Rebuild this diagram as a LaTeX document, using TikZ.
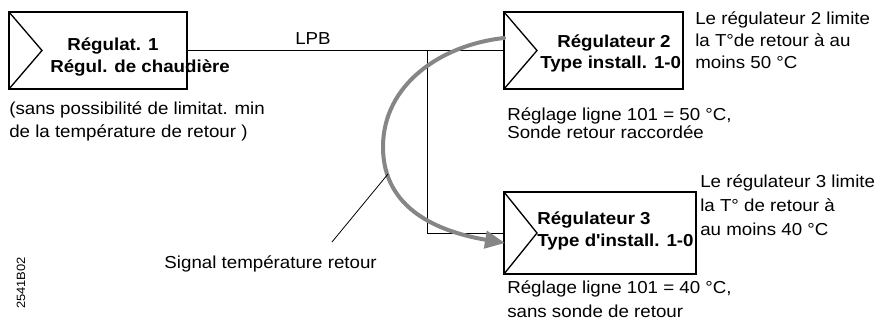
\documentclass[tikz,border=0pt]{standalone}
\usepackage{fontspec}
\setmainfont[FakeStretch=1.08]{Liberation Sans}
\usepackage{tikz}
\usetikzlibrary{arrows.meta}
\tikzset{
  regbox/.style args = {#1x#2}{draw,line width=1pt,inner sep=0pt,
    minimum width=#1*0.75pt,minimum height=#2*0.75pt,
    path picture={\draw[line width=1pt] (path picture bounding box.north west)
      -- ([xshift=24.75pt]path picture bounding box.west)
      -- (path picture bounding box.south west);}},
  tag/.style   = {inner sep=0pt,anchor=base west,font=\fontsize{13}{16.5}\selectfont\bfseries},
  note/.style  = {inner sep=0pt,anchor=base west,align=left,font=\fontsize{13}{#1}\selectfont},
  note/.default = 16.5,
  busline/.style = {line width=0.5pt},
  sigarr/.style  = {-{Triangle[length=15pt,width=13pt]},line width=3pt,gray!95,line cap=round}
}
\begin{document}
\begin{tikzpicture}[x=0.75pt,y=-0.75pt]
  \useasboundingbox (0,0) rectangle (879,322);
  % the three controllers
  \node[regbox=178x77] (regA) at (98,50.5)  {};
  \node[regbox=179x77] (regB) at (593.5,50.5) {};
  \node[regbox=192x82] (regC) at (600,233)  {};
  \node[tag] (regAa) at (67,50) {Régulat. 1};
  \node[tag] (regAb) at (50,72) {Régul. de chaudière};
  \node[tag] (regBa) at (557,47) {Régulateur 2};
  \node[tag] (regBb) at (540,68) {Type install. 1-0};
  \node[tag] (regCa) at (537,224) {Régulateur 3};
  \node[tag] (regCb) at (537,246) {Type d\textquotesingle install. 1-0};
  % LPB bus
  \coordinate (bus) at (427,50.5);
  \draw[line width=0.8pt] (regA.east) -- (bus);
  \draw[busline] (bus) -- (regB.west);
  \draw[busline] (bus) |- (regC.west);
  \node[inner sep=0pt,anchor=base,font=\fontsize{13}{15}\selectfont] (lpb) at (313,44) {LPB};
  % notes (anchored on their last line)
  \node[note=17] (noteA) at (9,137) {(sans possibilité de limitat. min\\de la température de retour )};
  \node[note=16.3] (limB) at (695,68) {Le régulateur 2 limite\\la T°de retour à au\\moins 50 °C};
  \node[note=13.5] (noteB) at (507,138) {Réglage ligne 101 = 50 °C,\\Sonde retour raccordée};
  \node[note=18] (limC) at (700,235) {Le régulateur 3 limite\\la T° de retour à\\au moins 40 °C};
  \node[note=18] (noteC) at (507,317) {Réglage ligne 101 = 40 °C,\\sans sonde de retour};
  % return temperature signal
  \coordinate (sigstart) at (504,38);
  \coordinate (sigend) at (505,243);
  \coordinate (sigpt) at (388,174);
  \coordinate (sigfoot) at (332,242);
  \draw[sigarr] (sigstart) .. controls (440,45) and (383,85) .. (383,147)
    .. controls (383,210) and (440,232) .. (sigend);
  \draw[line width=0.6pt] (sigfoot) -- (sigpt);
  \node[inner sep=0pt,anchor=base east,font=\fontsize{13}{15}\selectfont] (sigtxt) at (377,268) {Signal température retour};
  \node[inner sep=0pt,rotate=90,font=\fontsize{9}{10}\selectfont] (code) at (21,283) {2541B02};
\end{tikzpicture}
\end{document}
